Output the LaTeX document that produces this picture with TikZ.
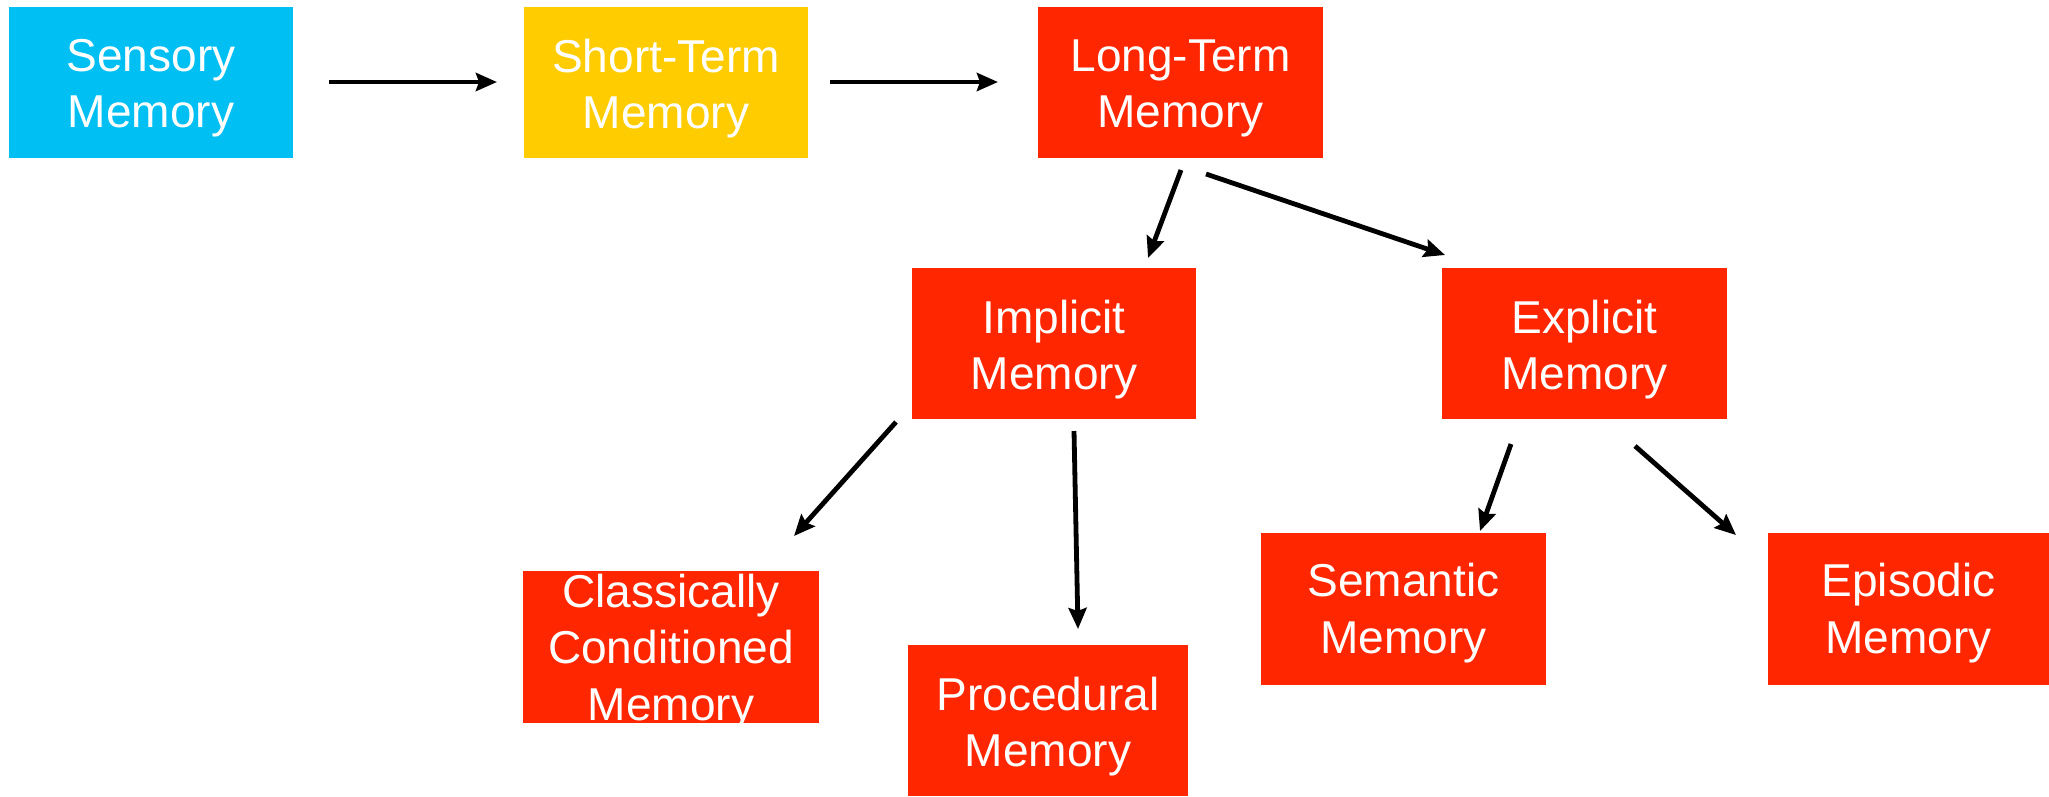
\documentclass[tikz,border=0pt]{standalone}
\usepackage{fontspec}
\setmainfont{Liberation Sans}
\usetikzlibrary{arrows.meta}
\definecolor{skyb}{RGB}{0,191,243}
\definecolor{gold}{RGB}{255,204,0}
\definecolor{redm}{RGB}{255,38,0}
\begin{document}
\begin{tikzpicture}[x=0.01cm,y=-0.01cm,
  box/.style={rectangle, inner sep=0pt, fill=redm,
    minimum width=2.84cm, minimum height=1.51cm},
  lbl/.style={inner sep=0pt, text=white, align=center,
    font=\fontsize{13.1pt}{16pt}\selectfont},
  arr/.style={-{Stealth[length=0.21cm,width=0.18cm,inset=0.03cm]}, line width=0.048cm, black}]
\useasboundingbox (0,0) rectangle (2049,796);
\fill[white] (0,0) rectangle (2049,796);

\node[box, fill=skyb] (sens) at (151,82.5) {};
\node[box, fill=gold] (stm) at (666,82.5) {};
\node[box] (ltm) at (1180.5,82.5) {};
\node[box] (imp) at (1054,343.5) {};
\node[box] (exp) at (1584.5,343.5) {};
\node[box, minimum width=2.96cm, minimum height=1.52cm] (cls) at (671,647) {};
\node[box, minimum width=2.80cm] (proc) at (1048,720.5) {};
\node[box, minimum width=2.85cm, minimum height=1.52cm] (sem) at (1403.5,609) {};
\node[box, minimum width=2.81cm, minimum height=1.52cm] (epi) at (1908.5,609) {};

\node[lbl] (sens-t) at ([yshift=-0.06cm]sens.center) {Sensory\\Memory};
\node[lbl] (stm-t) at ([yshift=-0.06cm]stm.center) {Short-Term\\Memory};
\node[lbl] (ltm-t) at ([yshift=-0.06cm]ltm.center) {Long-Term\\Memory};
\node[lbl] (imp-t) at ([yshift=-0.06cm]imp.center) {Implicit\\Memory};
\node[lbl] (exp-t) at ([yshift=-0.06cm]exp.center) {Explicit\\Memory};
\node[lbl] (cls-t) at ([yshift=-0.05cm]cls.center) {Classically\\Conditioned\\Memory};
\node[lbl] (proc-t) at ([yshift=-0.06cm]proc.center) {Procedural\\Memory};
\node[lbl] (sem-t) at ([yshift=-0.04cm]sem.center) {Semantic\\Memory};
\node[lbl] (epi-t) at ([yshift=-0.04cm]epi.center) {Episodic\\Memory};

\coordinate (a1s) at (329,82);   \coordinate (a1e) at (497,82);
\coordinate (a2s) at (830,82);   \coordinate (a2e) at (998,82);
\coordinate (a3s) at (1181,170); \coordinate (a3e) at (1148,258);
\coordinate (a4s) at (1206,174); \coordinate (a4e) at (1445,255);
\coordinate (a5s) at (896,422);  \coordinate (a5e) at (794,536);
\coordinate (a6s) at (1074,431); \coordinate (a6e) at (1078,629);
\coordinate (a7s) at (1511,444); \coordinate (a7e) at (1480,531);
\coordinate (a8s) at (1635,446); \coordinate (a8e) at (1736,535);

\draw[arr] (a1s) -- (a1e);
\draw[arr] (a2s) -- (a2e);
\draw[arr] (a3s) -- (a3e);
\draw[arr] (a4s) -- (a4e);
\draw[arr] (a5s) -- (a5e);
\draw[arr] (a6s) -- (a6e);
\draw[arr] (a7s) -- (a7e);
\draw[arr] (a8s) -- (a8e);
\end{tikzpicture}
\end{document}
